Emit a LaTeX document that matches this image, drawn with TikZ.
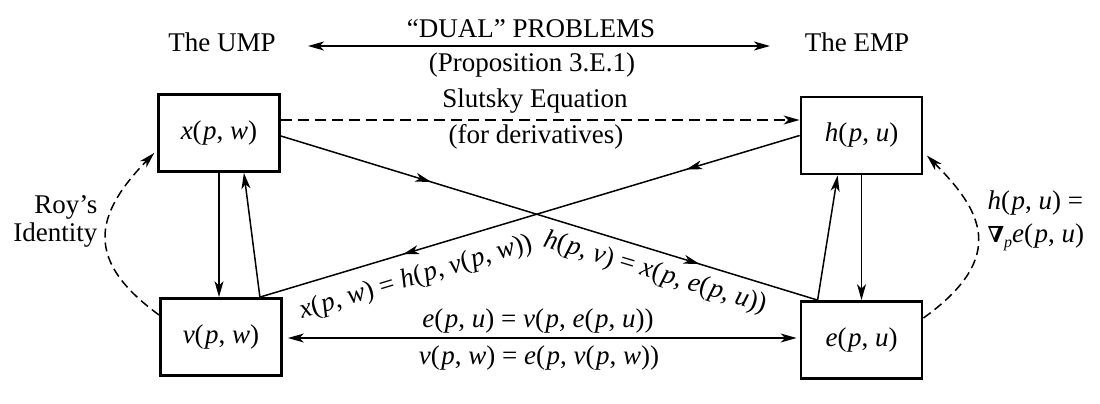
\documentclass[tikz,border=0pt]{standalone}
\usepackage{fontspec}
\setmainfont{Liberation Serif}
\newfontfamily\dejavu{DejaVu Serif}
\usetikzlibrary{arrows.meta,decorations.markings}
\newcommand\iv[1]{\textit{#1}}
\newcommand\lp{(\kern1.5pt}
\begin{document}
\begin{tikzpicture}[x=1pt,y=-1pt,
  every node/.style={font=\fontsize{27}{28}\selectfont},
  box/.style={draw, line width=2.8pt, minimum width=121pt, minimum height=77pt, inner sep=0pt},
  conn/.style={line width=1.5pt},
  >={Stealth[length=16pt,width=9pt,inset=4.5pt]},
  dsh/.style={dash pattern=on 11pt off 6pt},
  dshc/.style={dash pattern=on 9pt off 5pt},
  midarr/.style 2 args={postaction={decorate}, decoration={markings,
      mark=at position #1 with {\arrow{Stealth[length=16pt,width=9pt,inset=4.5pt]}},
      mark=at position #2 with {\arrow{Stealth[length=16pt,width=9pt,inset=4.5pt]}}}}
  ]
\useasboundingbox (0,0) rectangle (1100,404);

% boxes
\node[box] (X) at (219,133) {\iv{x}\lp\iv{p}, \iv{w})};
\node[box] (H) at (861.5,135.5) {\iv{h}\lp\iv{p}, \iv{u})};
\node[box] (V) at (221,337) {\iv{v}\lp\iv{p}, \iv{w})};
\node[box] (E) at (861.5,340) {\iv{e}\lp\iv{p}, \iv{u})};

% top texts
\node (ump) at (222,42) {The UMP};
\node (emp) at (857,42) {The EMP};
\node (dual) at (531,29) {“DUAL” PROBLEMS};
\node (prop) at (532,65) {(Proposition 3.E.1)};
\node (slut) at (535,101) {Slutsky Equation};
\node (deriv) at (536,137) {(for derivatives)};
\coordinate (dl) at (308,46);
\coordinate (dr) at (770,46);
\draw[conn,<->] (dl) -- (dr);

% Slutsky dashed arrow
\draw[conn,dsh,->] ([yshift=13pt]X.east) -- ([yshift=15.5pt]H.west);

% diagonals
\draw[conn,midarr={0.28}{0.78}] ([yshift=-3pt]X.east) -- ([xshift=18pt]E.north west);
\draw[conn,midarr={0.21}{0.735}] (H.west) -- ([xshift=-23pt]V.north east);

% verticals
\draw[conn,->] (X.south) -- (X.south |- V.north);
\draw[conn,->] ([xshift=-23pt]V.north east) -- ([xshift=-37pt]X.south east);
\draw[conn,->] (H.south) -- (H.south |- E.north);
\draw[conn,->] ([xshift=18pt]E.north west) -- ([xshift=38pt]H.south west);

% bottom horizontal
\draw[conn,<->,shorten <=5pt,shorten >=3pt] ([yshift=-1pt]V.east) -- ([yshift=2pt]E.west);

% dashed curves
\draw[conn,dshc,->,shorten >=4pt] ([yshift=22pt]V.west) .. controls (85,261) and (93,216) .. ([yshift=-17pt]X.west);
\draw[conn,dshc,->,shorten >=5pt] ([yshift=22pt]E.east) .. controls (1010,256) and (980,209) .. ([yshift=-16.5pt]H.east);

% side labels
\node[align=right,anchor=east] (roy) at (101,221) {Roy’s\\Identity};
\node[align=left,anchor=west,font=\fontsize{27}{33}\selectfont] (grad) at (984,221)
  {\iv{h}\lp\iv{p}, \iv{u}) =\\{\dejavu\bfseries\fontsize{22}{22}\selectfont ∇}\raisebox{-5pt}{\fontsize{16}{16}\selectfont\iv{p}}\iv{e}\lp\iv{p}, \iv{u})};

% equation labels
\node[rotate=16.7] (l1) at (416,278) {\iv{x}\lp\iv{p}, \iv{w}) = \iv{h}\lp\iv{p}, \iv{v}\lp\iv{p}, \iv{w}))};
\node[rotate=-16.7] (l2) at (655,273) {\iv{h}\lp\iv{p}, \iv{v}) = \iv{x}\lp\iv{p}, \iv{e}\lp\iv{p}, \iv{u}))};
\node (l3) at (538,321) {\iv{e}\lp\iv{p}, \iv{u}) = \iv{v}\lp\iv{p}, \iv{e}\lp\iv{p}, \iv{u}))};
\node (l4) at (539,358) {\iv{v}\lp\iv{p}, \iv{w}) = \iv{e}\lp\iv{p}, \iv{v}\lp\iv{p}, \iv{w}))};
\end{tikzpicture}
\end{document}
